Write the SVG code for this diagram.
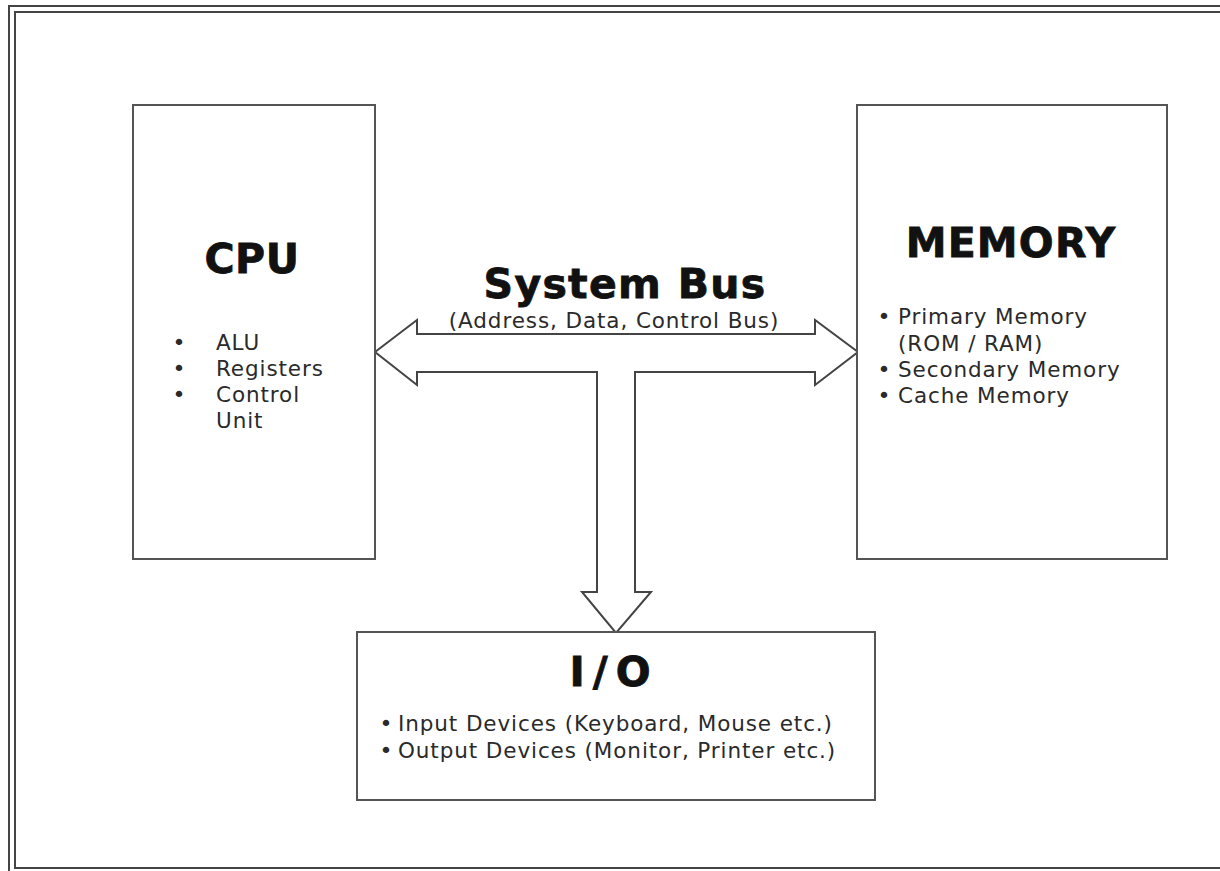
<svg xmlns="http://www.w3.org/2000/svg" width="1220" height="871" viewBox="0 0 1220 871">
  <style>
    .frame { fill: none; stroke: #444; stroke-width: 2; }
    .box { fill: #fff; stroke: #555; stroke-width: 2; }
    .bus { fill: #fff; stroke: #444; stroke-width: 2; stroke-linejoin: miter; }
    .title { font-family: "DejaVu Sans", Verdana, sans-serif; font-weight: bold; font-size: 41px; fill: #111; stroke: #111; stroke-width: 0.8px; text-anchor: middle; }
    .item { font-family: "DejaVu Sans", Verdana, sans-serif; font-size: 21.5px; letter-spacing: 0.9px; fill: #2a2a2a; }
    .dot { font-family: "DejaVu Sans", Verdana, sans-serif; font-size: 22px; fill: #2a2a2a; text-anchor: middle; }
  </style>

  <rect width="1220" height="871" fill="#fff"/>

  <!-- double page frame -->
  <path class="frame" d="M9,871 V6 H1220"/>
  <path class="frame" d="M15,869 V12 H1220"/>
  <path class="frame" d="M15,868 H1220" stroke-width="3"/>

  <!-- system bus: double-headed horizontal arrow with a branch down to I/O -->
  <g id="connectors">
    <polygon class="bus" points="375,352 417,320 417,334 815,334 815,320 858,352 815,385 815,372 635,372 635,592 651,592 616,633 582,592 597,592 597,372 417,372 417,385"/>
  </g>

  <g id="bus-label">
    <text class="title" x="625" y="298" letter-spacing="1.3">System Bus</text>
    <text class="item" x="614" y="328" text-anchor="middle">(Address, Data, Control Bus)</text>
  </g>

  <g id="cpu">
    <rect class="box" x="133" y="105" width="242" height="454"/>
    <text class="title" x="252" y="273" letter-spacing="0.5">CPU</text>
    <g class="dot">
      <text x="179" y="350">•</text>
      <text x="179" y="376">•</text>
      <text x="179" y="402">•</text>
    </g>
    <g class="item">
      <text x="216" y="350">ALU</text>
      <text x="216" y="376">Registers</text>
      <text x="216" y="402">Control</text>
      <text x="216" y="428">Unit</text>
    </g>
  </g>

  <g id="memory">
    <rect class="box" x="857" y="105" width="310" height="454"/>
    <text class="title" x="1011" y="257" letter-spacing="1.2">MEMORY</text>
    <g class="dot">
      <text x="884" y="324">•</text>
      <text x="884" y="377">•</text>
      <text x="884" y="403">•</text>
    </g>
    <g class="item">
      <text x="898" y="324">Primary Memory</text>
      <text x="898" y="351">(ROM / RAM)</text>
      <text x="898" y="377">Secondary Memory</text>
      <text x="898" y="403">Cache Memory</text>
    </g>
  </g>

  <g id="io">
    <rect class="box" x="357" y="632" width="518" height="168"/>
    <text class="title" x="614" y="686" letter-spacing="8">I/O</text>
    <g class="dot">
      <text x="386" y="731">•</text>
      <text x="386" y="758">•</text>
    </g>
    <g class="item">
      <text x="398" y="731">Input Devices (Keyboard, Mouse etc.)</text>
      <text x="398" y="758">Output Devices (Monitor, Printer etc.)</text>
    </g>
  </g>
</svg>
